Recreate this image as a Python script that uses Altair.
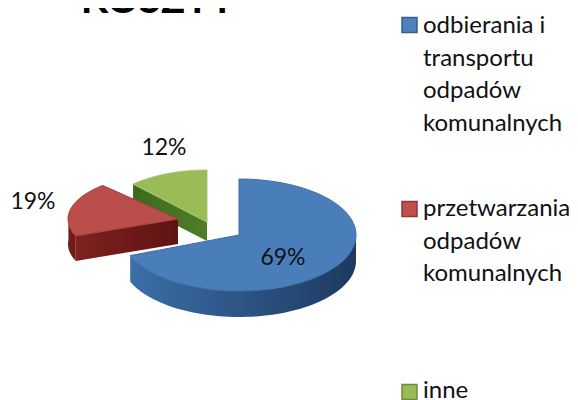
import math
import altair as alt
import pandas as pd

# --- chart values ---
categories = ["odbierania i transportu odpadów komunalnych", "przetwarzania odpadów komunalnych", "inne"]
shares = [69, 19, 12]
percent_labels = ["69%", "19%", "12%"]
title_text = "KOSZTY"
legend_lines = [
    ["odbierania i", "transportu", "odpadów", "komunalnych"],
    ["przetwarzania", "odpadów", "komunalnych"],
    ["inne"],
]

# --- styling / layout ---
FONT = "Lato"
W, H = 562, 392
X = alt.Scale(domain=[8, 8 + W], nice=False, zero=False)
Y = alt.Scale(domain=[8 + H, 8], nice=False, zero=False)
top_col = ["#4a7ebb", "#bb4d4a", "#9bbb59"]
edge_col = ["#3d6da6", "#a33f3d", "#a8c76a"]
# apex x, apex y, rx, ry, depth per slice
geom = [(239, 235, 117, 56, 26), (178, 219, 110, 46, 25), (207, 222, 108, 52, 19)]
legend_sq_y = [25, 209, 392]
legend_base = [33, 216, 398]
label_pos = [(283, 265), (33, 209), (164, 155)]


def grad(a, b, x1=0, x2=1, y1=0, y2=0):
    return alt.Gradient(gradient="linear", x1=x1, x2=x2, y1=y1, y2=y2,
                        stops=[alt.GradientStop(color=a, offset=0), alt.GradientStop(color=b, offset=1)])


def poly(pts, fill, stroke=None):
    df = pd.DataFrame({"x": [p[0] for p in pts], "y": [p[1] for p in pts], "i": range(len(pts))})
    kw = {"fill": fill, "strokeWidth": 1, "stroke": stroke if stroke else "transparent", "interpolate": "linear"}
    return alt.Chart(df).mark_line(**kw).encode(
        x=alt.X("x:Q", scale=X, axis=None),
        y=alt.Y("y:Q", scale=Y, axis=None),
        order="i:Q",
    )


# slice angle ranges from the shares (clockwise from the top)
starts, a = [], 0.0
for s in shares:
    starts.append(a)
    a += s * 3.6


def arc_pts(k, a0, a1, dy=0, n=70):
    cx, cy, rx, ry, _ = geom[k]
    return [(cx + rx * math.sin(math.radians(a0 + (a1 - a0) * j / n)),
             cy - ry * math.cos(math.radians(a0 + (a1 - a0) * j / n)) + dy) for j in range(n + 1)]


def top(k):
    cx, cy = geom[k][:2]
    return [(cx, cy)] + arc_pts(k, starts[k], starts[k] + shares[k] * 3.6) + [(cx, cy)]


def wall_arc(k, a0, a1):
    d = geom[k][4]
    return arc_pts(k, a0, a1) + arc_pts(k, a0, a1, d)[::-1]


def wall_edge(k, ang):
    cx, cy, _, _, d = geom[k]
    p = arc_pts(k, ang, ang, n=1)[0]
    return [(cx, cy), p, (p[0], p[1] + d), (cx, cy + d)]


layers = []
# green
layers.append(poly(wall_edge(2, starts[2]), grad("#3c6a1c", "#4f7d28")))
layers.append(poly(wall_edge(2, 360), "#4f7d28"))
layers.append(poly(top(2), top_col[2], edge_col[2]))
# red
layers.append(poly(wall_arc(1, starts[1], 275), "#6e1b1a"))
layers.append(poly(wall_edge(1, starts[1]), grad("#7d2220", "#5f1312")))
layers.append(poly(top(1), top_col[1], edge_col[1]))
# blue
layers.append(poly(wall_arc(0, 90, starts[0] + shares[0] * 3.6), grad("#3c6ea8", "#1d3a60")))
layers.append(poly(top(0), top_col[0], edge_col[0]))

# percent labels
lab = pd.DataFrame({"x": [p[0] for p in label_pos], "y": [p[1] for p in label_pos], "t": percent_labels})
layers.append(alt.Chart(lab).mark_text(font=FONT, fontSize=23, color="#111111", align="center", baseline="alphabetic").encode(
    x=alt.X("x:Q", scale=X, axis=None), y=alt.Y("y:Q", scale=Y, axis=None), text="t:N"))

# legend
sq = pd.DataFrame({"x": [409.5] * 3, "y": legend_sq_y, "c": categories})
layers.append(alt.Chart(sq).mark_square(size=225, opacity=1, filled=True, strokeWidth=1.5).encode(
    x=alt.X("x:Q", scale=X, axis=None), y=alt.Y("y:Q", scale=Y, axis=None),
    fill=alt.Fill("c:N", scale=alt.Scale(domain=categories, range=["#4f81bd", "#c0504d", "#9bbb59"]), legend=None),
    stroke=alt.Stroke("c:N", scale=alt.Scale(domain=categories, range=["#385d8a", "#8c3836", "#71893f"]), legend=None),
))
rows = []
for base, lines in zip(legend_base, legend_lines):
    for j, t in enumerate(lines):
        rows.append({"x": 423, "y": base + j * 32.5, "t": t})
layers.append(alt.Chart(pd.DataFrame(rows)).mark_text(font=FONT, fontSize=24, color="#111111", align="left", baseline="alphabetic").encode(
    x=alt.X("x:Q", scale=X, axis=None), y=alt.Y("y:Q", scale=Y, axis=None), text="t:N"))

# title, cut by the top edge as in the reference
ttl = pd.DataFrame({"x": [158], "y": [13], "t": [title_text]})
layers.append(alt.Chart(ttl).mark_text(font=FONT, fontSize=40, fontWeight="bold", color="#000000", align="center", baseline="alphabetic").encode(
    x=alt.X("x:Q", scale=X, axis=None), y=alt.Y("y:Q", scale=Y, axis=None), text="t:N"))

chart = alt.layer(*layers).properties(
    width=W, height=H, padding=0, autosize=alt.AutoSizeParams(type="none"),
).configure_view(stroke=None)

chart.save("out.html", embed_options={"renderer": "svg", "actions": False})
